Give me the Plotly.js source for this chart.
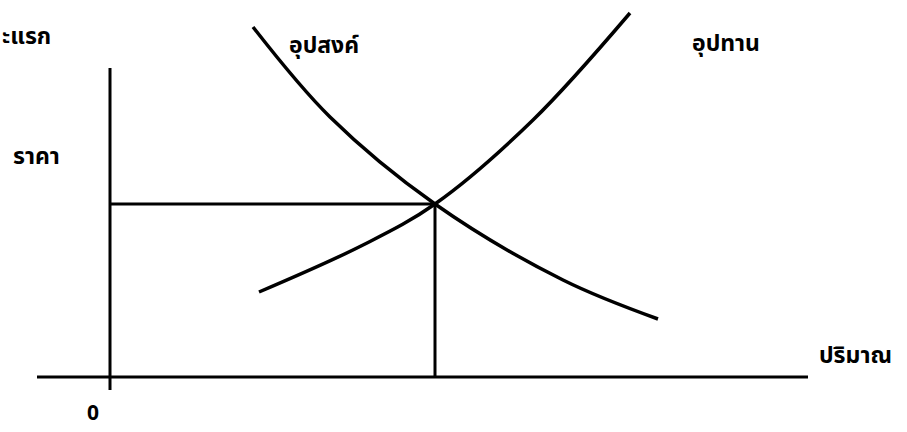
<!DOCTYPE html>
<html><head><meta charset="utf-8">
<script src="https://cdn.plot.ly/plotly-3.0.1.min.js"></script>
<style>html,body{margin:0;padding:0;background:#fff}</style>
</head><body>
<div id="chart" style="width:907px;height:432px"></div>
<script>
// Demand curve (quantity, price)
const demandQ = [143, 220, 325, 453, 548];
const demandP = [350, 260, 173, 97, 58];
// Supply curve (quantity, price)
const supplyQ = [149, 253, 325, 423, 520];
const supplyP = [85, 132, 173, 257, 364];
// Equilibrium
const eqQ = 325, eqP = 173;
// Axis extents
const xAxisQ = [-73, 698];
const yAxisP = [-13, 309];
// Labels
const labels = {
  title: "ะแรก", price: "ราคา", quantity: "ปริมาณ",
  demand: "อุปสงค์", supply: "อุปทาน", origin: "0"
};

const ln = {color: '#000', width: 3};
const traces = [
  {x: xAxisQ, y: [0, 0], mode: 'lines', line: ln},
  {x: [0, 0], y: yAxisP, mode: 'lines', line: ln},
  {x: [0, eqQ], y: [eqP, eqP], mode: 'lines', line: ln},
  {x: [eqQ, eqQ], y: [eqP, 0], mode: 'lines', line: ln},
  {x: demandQ, y: demandP, mode: 'lines', line: {color: '#000', width: 3.5, shape: 'spline', smoothing: 1}},
  {x: supplyQ, y: supplyP, mode: 'lines', line: {color: '#000', width: 3.5, shape: 'spline', smoothing: 1}}
];
const font = {family: 'Noto Sans Thai, Noto Sans, DejaVu Sans, sans-serif', size: 23, color: '#000'};
const ann = (t, x, y, xa, ya, f) => ({text: '<b>' + t + '</b>', x: x, y: y, xref: 'x', yref: 'y', showarrow: false, xanchor: xa, yanchor: ya || 'middle', font: f || font});
const layout = {
  width: 907, height: 432,
  margin: {l: 0, r: 0, t: 0, b: 0},
  paper_bgcolor: '#fff', plot_bgcolor: '#fff',
  showlegend: false,
  xaxis: {range: [-110, 797], visible: false, fixedrange: true},
  yaxis: {range: [-55, 377], visible: false, fixedrange: true},
  annotations: [
    ann(labels.title, -110, 340, 'left'),
    ann(labels.price, -99, 220, 'left'),
    ann(labels.demand, 177, 331, 'left'),
    ann(labels.supply, 580, 333, 'left'),
    ann(labels.quantity, 707, 21, 'left'),
    ann(labels.origin, -17, -54, 'center', 'bottom', {family: font.family, size: 21, color: '#000'})
  ]
};
Plotly.newPlot('chart', traces, layout, {staticPlot: true});
</script>
</body></html>
